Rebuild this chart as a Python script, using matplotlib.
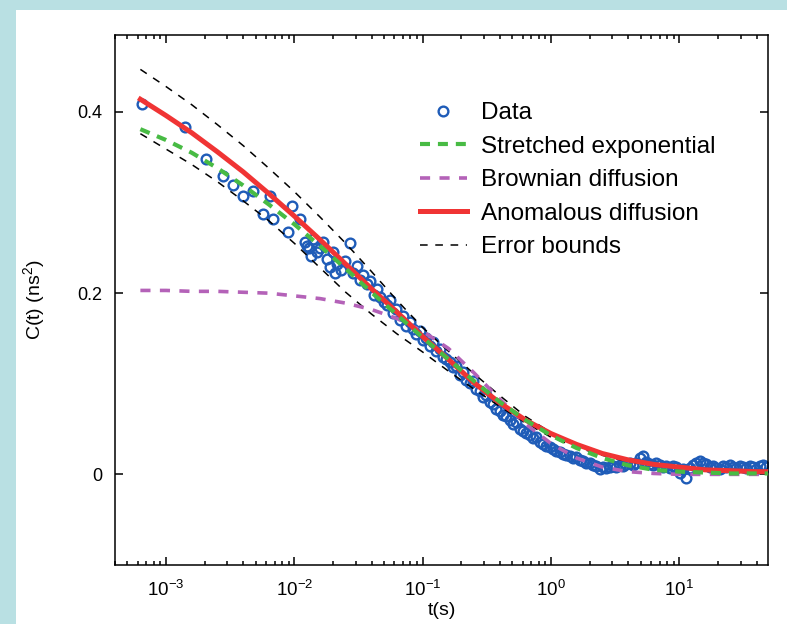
import numpy as np
import matplotlib.pyplot as plt
from matplotlib.patches import Rectangle
from matplotlib.ticker import NullLocator

plt.rcParams['font.family'] = ['Liberation Sans', 'DejaVu Sans']
plt.rcParams['mathtext.fontset'] = 'custom'
plt.rcParams['mathtext.rm'] = 'Liberation Sans'
plt.rcParams['mathtext.it'] = 'Liberation Sans:italic'

# fitted curves on a grid of log10(t / s)
fit_log_t = [-3.2, -3.0, -2.8, -2.6, -2.4, -2.2, -2.0, -1.8, -1.6, -1.4, -1.2, -1.0,
             -0.8, -0.6, -0.4, -0.2, 0.0, 0.2, 0.4, 0.6, 0.8, 1.0, 1.2, 1.4, 1.6, 1.69]
stretched = [0.381, 0.369, 0.355, 0.338, 0.319, 0.298, 0.276, 0.252, 0.227, 0.201, 0.176, 0.151,
             0.127, 0.103, 0.080, 0.060, 0.043, 0.029, 0.018, 0.010, 0.005, 0.003, 0.002, 0.001, 0.001, 0.001]
brownian = [0.203, 0.203, 0.202, 0.202, 0.201, 0.200, 0.197, 0.194, 0.189, 0.182, 0.172, 0.158,
            0.139, 0.112, 0.083, 0.056, 0.034, 0.018, 0.008, 0.003, 0.001, 0.0, 0.0, 0.0, 0.0, 0.0]
anomalous = [0.414, 0.396, 0.377, 0.356, 0.334, 0.310, 0.285, 0.259, 0.232, 0.205, 0.179, 0.152,
             0.127, 0.101, 0.079, 0.060, 0.045, 0.033, 0.023, 0.016, 0.011, 0.008, 0.005, 0.004, 0.003, 0.003]
err_upper = [0.447, 0.428, 0.408, 0.386, 0.363, 0.338, 0.312, 0.284, 0.255, 0.224, 0.192, 0.162,
             0.136, 0.111, 0.087, 0.064, 0.046, 0.034, 0.024, 0.017, 0.012, 0.009, 0.006, 0.005, 0.004, 0.004]
err_lower = [0.376, 0.359, 0.342, 0.323, 0.302, 0.280, 0.255, 0.228, 0.201, 0.177, 0.155, 0.135,
             0.114, 0.094, 0.075, 0.057, 0.041, 0.030, 0.021, 0.014, 0.010, 0.007, 0.005, 0.004, 0.003, 0.003]

# measured correlation, log10(t / s) and C(t)
data_log_t = [
    -3.187, -2.852, -2.688, -2.556, -2.478, -2.400, -2.322, -2.244, -2.189, -2.166,
    -2.049, -2.018, -1.956, -1.917, -1.901, -1.885, -1.870, -1.854, -1.823, -1.800,
    -1.776, -1.745, -1.722, -1.700, -1.680, -1.667, -1.636,
    -1.605, -1.566, -1.543, -1.511, -1.488, -1.465, -1.433, -1.410, -1.379, -1.355,
    -1.332, -1.301, -1.278, -1.254, -1.231, -1.207, -1.176, -1.153, -1.129, -1.098,
    -1.075, -1.052, -1.020, -0.997, -0.974, -0.942, -0.919, -0.896, -0.864, -0.841,
    -0.818, -0.787, -0.763, -0.740, -0.709, -0.685, -0.662, -0.631, -0.607, -0.584,
    -0.553, -0.529, -0.506, -0.475, -0.451, -0.428, -0.397, -0.373, -0.350, -0.319,
    -0.296, -0.272, -0.241, -0.218, -0.194, -0.163, -0.140, -0.116, -0.085, -0.062,
    -0.038, -0.007, 0.016, 0.040, 0.071, 0.094, 0.118, 0.149, 0.172, 0.196,
    0.227, 0.250, 0.273, 0.305, 0.328, 0.351, 0.383, 0.406, 0.429, 0.461,
    0.484, 0.507, 0.538, 0.562, 0.585, 0.616, 0.640, 0.663, 0.694, 0.718,
    0.741, 0.772, 0.796, 0.819, 0.850, 0.874, 0.897, 0.928, 0.952, 0.975,
    1.006, 1.030, 1.053, 1.084, 1.107, 1.131, 1.162, 1.185, 1.209, 1.240,
    1.263, 1.287, 1.318, 1.341, 1.365, 1.396, 1.419, 1.443, 1.474, 1.497,
    1.521, 1.552, 1.575, 1.598, 1.630, 1.653, 1.676]
data_c = [
    0.409, 0.383, 0.348, 0.329, 0.319, 0.307, 0.313, 0.287, 0.307, 0.282,
    0.268, 0.296, 0.282, 0.256, 0.252, 0.250, 0.241, 0.260, 0.245, 0.250,
    0.257, 0.238, 0.229, 0.245, 0.222, 0.232, 0.226,
    0.236, 0.255, 0.222, 0.230, 0.215, 0.220, 0.210, 0.213, 0.198, 0.205,
    0.196, 0.190, 0.187, 0.193, 0.178, 0.182, 0.170, 0.175, 0.164, 0.168,
    0.160, 0.155, 0.158, 0.148, 0.150, 0.142, 0.146, 0.136, 0.138, 0.130,
    0.127, 0.124, 0.118, 0.120, 0.110, 0.113, 0.104, 0.101, 0.103, 0.094,
    0.092, 0.085, 0.088, 0.080, 0.078, 0.072, 0.070, 0.066, 0.064, 0.060,
    0.056, 0.058, 0.050, 0.048, 0.046, 0.043, 0.040, 0.041, 0.036, 0.034,
    0.031, 0.030, 0.028, 0.026, 0.025, 0.022, 0.021, 0.020, 0.018, 0.019,
    0.016, 0.015, 0.012, 0.013, 0.010, 0.009, 0.006, 0.008, 0.007, 0.008,
    0.009, 0.008, 0.010, 0.009, 0.011, 0.012, 0.010, 0.013, 0.018, 0.020,
    0.014, 0.011, 0.010, 0.012, 0.010, 0.008, 0.009, 0.007, 0.009, 0.008,
    0.002, 0.006, -0.004, 0.007, 0.010, 0.012, 0.015, 0.013, 0.011, 0.008,
    0.009, 0.007, 0.006, 0.009, 0.008, 0.010, 0.008, 0.007, 0.009, 0.008,
    0.007, 0.009, 0.008, 0.006, 0.009, 0.010, 0.008]

fit_t = 10 ** np.array(fit_log_t)
data_t = 10 ** np.array(data_log_t)

fig = plt.figure(figsize=(7.87, 6.24), dpi=100, facecolor='#b9e0e3')
fig.patches.append(Rectangle((16 / 787, 0), 1, 1 - 10 / 624, transform=fig.transFigure,
                             facecolor='white', edgecolor='none', zorder=-1))
ax = fig.add_axes([0.1461, 0.0946, 0.8297, 0.8494])

data_line, = ax.plot(data_t, data_c, linestyle='none', marker='o', markersize=7,
                     markerfacecolor='none', markeredgecolor='#1f5cb8', markeredgewidth=1.7,
                     label='Data', zorder=1)
ax.plot(fit_t, err_upper, color='black', lw=1.1, dashes=(5, 5), zorder=2)
err_line, = ax.plot(fit_t, err_lower, color='black', lw=1.1, dashes=(5, 5),
                    label='Error bounds', zorder=2)
brown_line, = ax.plot(fit_t, brownian, color='#b462b8', lw=2.6, dashes=(2.8, 2.6),
                      label='Brownian diffusion', zorder=3)
anom_line, = ax.plot(fit_t, anomalous, color='#f03434', lw=3.6,
                     label='Anomalous diffusion', zorder=4)
str_line, = ax.plot(fit_t, stretched, color='#48bb44', lw=3.0, dashes=(2.4, 1.9),
                    label='Stretched exponential', zorder=5)

ax.set_xscale('log')
ax.set_xlim(4e-4, 49)
ax.set_ylim(-0.1, 0.485)
ax.set_yticks([0, 0.2, 0.4])
ax.set_yticklabels(['0', '0.2', '0.4'])
ax.yaxis.set_minor_locator(NullLocator())
ax.tick_params(which='both', direction='in', top=True, right=True, width=1.1)
ax.tick_params(which='major', length=6)
ax.tick_params(which='minor', length=3)
ax.tick_params(axis='y', pad=9, labelsize=13)
ax.tick_params(axis='x', pad=11, labelsize=13.5)
for sp in ax.spines.values():
    sp.set_linewidth(1.1)

ax.set_xlabel('t(s)', fontsize=14, labelpad=1)
ax.set_ylabel('C(t) (ns$^2$)', fontsize=14, labelpad=22)

ax.legend(handles=[data_line, str_line, brown_line, anom_line, err_line],
          loc='upper left', bbox_to_anchor=(0.452, 0.891), frameon=False, fontsize=17.5,
          numpoints=1, handlelength=1.93, handletextpad=0.6, labelspacing=0.47,
          borderaxespad=0, borderpad=0.4)

fig.savefig('out.png', dpi=100, facecolor=fig.get_facecolor())
